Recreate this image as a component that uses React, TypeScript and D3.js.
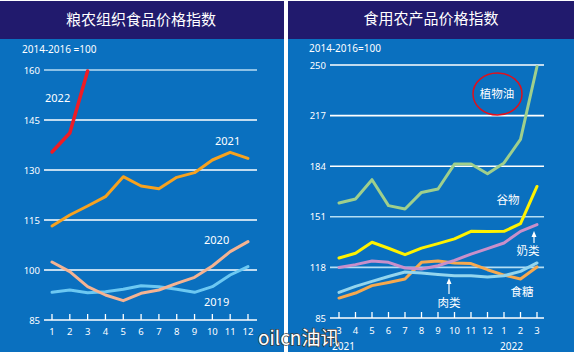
import React from 'react';
import * as d3 from 'd3';

// ---------- Left panel data (FAO Food Price Index) ----------
const months = [1, 2, 3, 4, 5, 6, 7, 8, 9, 10, 11, 12];
const fpi2019 = [93.3, 94.0, 93.2, 93.5, 94.2, 95.3, 95.0, 94.2, 93.3, 95.0, 98.5, 101.0];
const fpi2020 = [102.4, 99.5, 95.0, 92.5, 90.8, 93.0, 94.0, 96.0, 97.8, 101.2, 105.5, 108.5];
const fpi2021 = [113.2, 116.5, 119.2, 122.0, 128.0, 125.2, 124.4, 127.8, 129.2, 133.0, 135.3, 133.5];
const fpi2022 = [135.4, 141.1, 159.7];
const leftTicks = [85, 100, 115, 130, 145, 160];

// ---------- Right panel data (commodity indices) ----------
const periods = ['2021-3', '2021-4', '2021-5', '2021-6', '2021-7', '2021-8', '2021-9', '2021-10', '2021-11', '2021-12', '2022-1', '2022-2', '2022-3'];
const periodLabels = ['3', '4', '5', '6', '7', '8', '9', '10', '11', '12', '1', '2', '3'];
const vegOil = [160.0, 162.6, 175.2, 158.3, 156.1, 166.9, 169.1, 185.4, 185.4, 179.1, 186.1, 201.5, 249.0];
const cereals = [124.1, 127.2, 134.4, 130.5, 126.3, 130.6, 133.5, 136.6, 141.5, 141.4, 141.5, 146.5, 170.8];
const dairy = [118.0, 119.8, 122.2, 121.3, 117.6, 117.0, 119.1, 122.6, 126.7, 130.2, 133.9, 141.5, 145.9];
const meat = [101.7, 105.6, 108.9, 112.1, 115.0, 114.4, 113.4, 112.6, 112.6, 111.7, 112.6, 115.4, 120.9];
const sugar = [98.0, 101.3, 106.1, 108.2, 110.4, 121.3, 122.2, 120.9, 120.5, 116.5, 113.0, 110.4, 118.3];
const rightTicks = [85, 118, 151, 184, 217, 250];

const NAVY = '#211a6d';
const BLUE = '#0a70bf';
const NUM_FONT = '"Noto Sans", "DejaVu Sans", sans-serif';
const CJK_FONT = '"Noto Sans CJK SC", "Noto Sans", sans-serif';

export default function App() {
  // Left scales
  const lx = d3.scalePoint<number>().domain(months).range([52, 248]);
  const ly = d3.scaleLinear().domain([85, 160]).range([320, 70]);
  const lline = d3
    .line<number>()
    .x((_, i) => lx(months[i]) as number)
    .y((d) => ly(d));

  // Right scales
  const rx = d3.scalePoint<string>().domain(periods).range([339, 537]);
  const ry = d3.scaleLinear().domain([85, 250]).range([318, 65]);
  const rline = d3
    .line<number>()
    .x((_, i) => rx(periods[i]) as number)
    .y((d) => ry(d));

  const leftGridColor = (t: number) => (t === 160 ? '#b9dcf3' : '#ffffff');
  const rightGridColor = (t: number) => (t === 151 || t === 118 ? '#b3def4' : '#ffffff');

  return (
    <svg
      width={574}
      height={360}
      style={{ position: 'absolute', left: 0, top: 0, display: 'block', background: '#fff' }}
    >
      {/* ---------- LEFT PANEL ---------- */}
      <rect x={0} y={1} width={284} height={351} fill={BLUE} />
      <rect x={0} y={1} width={284} height={38} fill={NAVY} />
      <text x={141} y={25} textAnchor="middle" fill="#fff" fontSize={15} fontFamily={CJK_FONT}>
        粮农组织食品价格指数
      </text>
      <text x={22} y={53} fill="#fff" fontSize={10} fontFamily={NUM_FONT}>
        2014-2016 =100
      </text>
      {leftTicks.map((t) => (
        <g key={'lg' + t}>
          <line x1={44} x2={257} y1={ly(t)} y2={ly(t)} stroke={leftGridColor(t)} strokeWidth={1.6} />
          <text x={40} y={ly(t) + 3.5} textAnchor="end" fill="#fff" fontSize={9.5} fontFamily={NUM_FONT}>
            {t}
          </text>
        </g>
      ))}
      {months.map((m) => (
        <g key={'lt' + m}>
          <line x1={lx(m)} x2={lx(m)} y1={ly(85)} y2={ly(85) - 6} stroke="#fff" strokeWidth={1.3} />
          <text x={lx(m)} y={335} textAnchor="middle" fill="#fff" fontSize={9.5} fontFamily={NUM_FONT}>
            {m}
          </text>
        </g>
      ))}
      <path d={lline(fpi2019) || ''} fill="none" stroke="#6cc8f2" strokeWidth={3} strokeLinejoin="round" strokeLinecap="round" />
      <path d={lline(fpi2020) || ''} fill="none" stroke="#f5b392" strokeWidth={3} strokeLinejoin="round" strokeLinecap="round" />
      <path d={lline(fpi2021) || ''} fill="none" stroke="#f7a21f" strokeWidth={3} strokeLinejoin="round" strokeLinecap="round" />
      <path d={lline(fpi2022) || ''} fill="none" stroke="#ee1c25" strokeWidth={3.5} strokeLinejoin="round" strokeLinecap="round" />
      <text x={45} y={102} fill="#fff" fontSize={11} fontFamily={NUM_FONT}>2022</text>
      <text x={215} y={145} fill="#fff" fontSize={11} fontFamily={NUM_FONT}>2021</text>
      <text x={204} y={244} fill="#fff" fontSize={11} fontFamily={NUM_FONT}>2020</text>
      <text x={204} y={306} fill="#fff" fontSize={11} fontFamily={NUM_FONT}>2019</text>

      {/* ---------- RIGHT PANEL ---------- */}
      <rect x={288} y={1} width={286} height={351} fill={BLUE} />
      <rect x={288} y={1} width={286} height={38} fill={NAVY} />
      <text x={431} y={24} textAnchor="middle" fill="#fff" fontSize={15} fontFamily={CJK_FONT}>
        食用农产品价格指数
      </text>
      <text x={309} y={52} fill="#fff" fontSize={10} fontFamily={NUM_FONT}>
        2014-2016=100
      </text>
      {rightTicks.map((t) => (
        <g key={'rg' + t}>
          <line x1={330} x2={544} y1={ry(t)} y2={ry(t)} stroke={rightGridColor(t)} strokeWidth={1.6} />
          <text x={326} y={ry(t) + 3.5} textAnchor="end" fill="#fff" fontSize={9.5} fontFamily={NUM_FONT}>
            {t}
          </text>
        </g>
      ))}
      {periods.map((p, i) => (
        <g key={'rt' + p}>
          <line x1={rx(p)} x2={rx(p)} y1={ry(85)} y2={ry(85) - 6} stroke="#fff" strokeWidth={1.3} />
          <text x={rx(p)} y={334} textAnchor="middle" fill="#fff" fontSize={9.5} fontFamily={NUM_FONT}>
            {periodLabels[i]}
          </text>
        </g>
      ))}
      <text x={332} y={350} fill="#fff" fontSize={10} fontFamily={NUM_FONT}>2021</text>
      <text x={500} y={350} fill="#fff" fontSize={10} fontFamily={NUM_FONT}>2022</text>

      <path d={rline(sugar) || ''} fill="none" stroke="#f7a94e" strokeWidth={3} strokeLinejoin="round" strokeLinecap="round" />
      <path d={rline(meat) || ''} fill="none" stroke="#93d5ee" strokeWidth={3} strokeLinejoin="round" strokeLinecap="round" />
      <path d={rline(dairy) || ''} fill="none" stroke="#c98fca" strokeWidth={3} strokeLinejoin="round" strokeLinecap="round" />
      <path d={rline(cereals) || ''} fill="none" stroke="#fff200" strokeWidth={3} strokeLinejoin="round" strokeLinecap="round" />
      <path d={rline(vegOil) || ''} fill="none" stroke="#9fcf8c" strokeWidth={3} strokeLinejoin="round" strokeLinecap="round" />

      {/* labels */}
      <ellipse cx={497.5} cy={94} rx={24.5} ry={21} fill="none" stroke="#e0101c" strokeWidth={1.5} />
      <text x={497} y={98} textAnchor="middle" fill="#fff" fontSize={11.5} fontFamily={CJK_FONT}>植物油</text>
      <text x={508} y={204} textAnchor="middle" fill="#fff" fontSize={11.5} fontFamily={CJK_FONT}>谷物</text>
      <text x={528} y={255} textAnchor="middle" fill="#fff" fontSize={11.5} fontFamily={CJK_FONT}>奶类</text>
      <text x={522} y={296} textAnchor="middle" fill="#fff" fontSize={11.5} fontFamily={CJK_FONT}>食糖</text>
      <text x={449} y={307} textAnchor="middle" fill="#fff" fontSize={11.5} fontFamily={CJK_FONT}>肉类</text>
      {/* arrows */}
      <line x1={534} x2={534} y1={243} y2={235} stroke="#fff" strokeWidth={1.2} />
      <path d="M534,231 L531.5,237 L536.5,237 Z" fill="#fff" />
      <line x1={449} x2={449} y1={294} y2={282} stroke="#fff" strokeWidth={1.2} />
      <path d="M449,278 L446.5,284 L451.5,284 Z" fill="#fff" />

      {/* watermark */}
      <text
        x={258}
        y={345}
        fill="#fff"
        stroke="#3a3a3a"
        strokeWidth={1.5}
        style={{ paintOrder: 'stroke' }}
        fontSize={19}
        fontFamily={CJK_FONT}
      >
        oilcn油讯
      </text>
    </svg>
  );
}
